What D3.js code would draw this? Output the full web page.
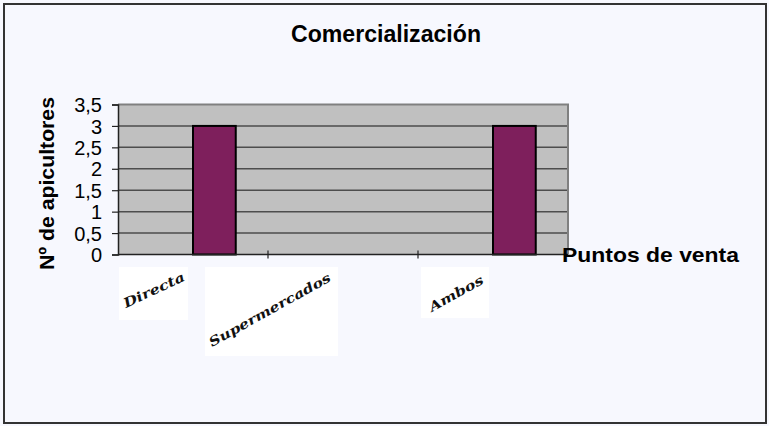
<!DOCTYPE html>
<html>
<head>
<meta charset="utf-8">
<script src="https://cdn.jsdelivr.net/npm/d3@7"></script>
<style>
  html, body { margin: 0; padding: 0; background: #f7f8fe; }
  svg { display: block; font-family: Arial, "Liberation Sans", sans-serif; }
</style>
</head>
<body>
<svg id="chart" width="769" height="426"></svg>
<script>
/* Data
   ========================================================================== */
var categories = ["Directa", "Supermercados", "Ambos"];
var apicultores = [3, 0, 3];
var yTicks = [0, 0.5, 1, 1.5, 2, 2.5, 3, 3.5];
var chartTitle = "Comercialización";
var yTitle = "Nº de apicultores";
var xTitle = "Puntos de venta";

/* Layout
   ========================================================================== */
var plot = { left: 118, right: 568, top: 104.5, bottom: 254.5 };

var svg = d3.select("#chart");

// outer frame
svg.append("rect")
    .attr("x", 4).attr("y", 4)
    .attr("width", 762).attr("height", 419)
    .attr("fill", "#f7f8fe")
    .attr("stroke", "#333")
    .attr("stroke-width", 2);

var x = d3.scaleBand()
    .domain(categories)
    .range([plot.left, plot.right])
    .padding(0);

var y = d3.scaleLinear()
    .domain([0, 3.5])
    .range([plot.bottom, plot.top]);

// plot area background
svg.append("rect")
    .attr("x", plot.left).attr("y", plot.top)
    .attr("width", plot.right - plot.left)
    .attr("height", plot.bottom - plot.top)
    .attr("fill", "#c0c0c0");

// gridlines (every 0.5 except 0 and top)
svg.append("g")
    .selectAll("line")
    .data(yTicks.filter(function(d) { return d > 0 && d < 3.5; }))
    .enter().append("line")
    .attr("x1", plot.left).attr("x2", plot.right)
    .attr("y1", function(d) { return y(d); })
    .attr("y2", function(d) { return y(d); })
    .attr("stroke", "#4d4d4d")
    .attr("stroke-width", 1.5);

// top and right border of the plot area
svg.append("path")
    .attr("d", "M" + plot.left + "," + plot.top + "H" + plot.right + "V" + plot.bottom)
    .attr("fill", "none")
    .attr("stroke", "#808080")
    .attr("stroke-width", 2);

// bars: drawn from the centre of the category band to the right
var barW = x.bandwidth() * 0.285;
svg.append("g")
    .selectAll("rect")
    .data(categories)
    .enter().append("rect")
    .attr("x", function(d) { return x(d) + x.bandwidth() / 2; })
    .attr("width", barW)
    .attr("y", function(d, i) { return y(apicultores[i]); })
    .attr("height", function(d, i) { return y(0) - y(apicultores[i]); })
    .attr("fill", "#7e1f5c")
    .attr("stroke", "#000")
    .attr("stroke-width", 2)
    .style("display", function(d, i) { return apicultores[i] > 0 ? null : "none"; });

// y axis
var yAxis = svg.append("g")
    .attr("transform", "translate(" + plot.left + ",0)")
    .call(d3.axisLeft(y)
        .tickValues(yTicks)
        .tickSize(6)
        .tickPadding(10)
        .tickFormat(function(d) { return String(d).replace(".", ","); }));
yAxis.select(".domain").attr("stroke", "#222").attr("stroke-width", 1.5);
yAxis.selectAll(".tick line").attr("stroke", "#222").attr("stroke-width", 1.2);
yAxis.selectAll("text")
    .attr("fill", "#000")
    .style("font-size", "20px")
    .attr("dy", "0.36em");

// x axis (ticks between categories, crossing the axis)
var xAxisLine = svg.append("g");
xAxisLine.append("line")
    .attr("x1", plot.left).attr("x2", plot.right)
    .attr("y1", plot.bottom).attr("y2", plot.bottom)
    .attr("stroke", "#222").attr("stroke-width", 1.5);
xAxisLine.selectAll(".xtick")
    .data(categories.slice(1))
    .enter().append("line")
    .attr("class", "xtick")
    .attr("x1", function(d) { return x(d); })
    .attr("x2", function(d) { return x(d); })
    .attr("y1", plot.bottom - 4)
    .attr("y2", plot.bottom + 4)
    .attr("stroke", "#222").attr("stroke-width", 1.2);

// category labels: rotated text in white boxes
var labelBox = [
    { dx: 1,   w: 69,  h: 53, tx: 7,  ty: 41, ang: -25, len: 66 },
    { dx: -63, w: 133, h: 89, tx: 7,  ty: 80, ang: -29, len: 137 },
    { dx: 3,   w: 68,  h: 51, tx: 11, ty: 45, ang: -29, len: 60 }
];
var labels = svg.append("g")
    .selectAll("g")
    .data(categories)
    .enter().append("g")
    .attr("transform", function(d, i) {
        return "translate(" + (x(d) + labelBox[i].dx) + "," + (plot.bottom + 12.5) + ")";
    });
labels.append("rect")
    .attr("width", function(d, i) { return labelBox[i].w; })
    .attr("height", function(d, i) { return labelBox[i].h; })
    .attr("fill", "#fff");
labels.append("text")
    .attr("transform", function(d, i) {
        return "translate(" + labelBox[i].tx + "," + labelBox[i].ty + ") rotate(" + labelBox[i].ang + ")";
    })
    .attr("textLength", function(d, i) { return labelBox[i].len; })
    .attr("lengthAdjust", "spacingAndGlyphs")
    .style("font-family", "'DejaVu Serif', serif")
    .style("font-weight", "bold")
    .style("font-style", "italic")
    .style("font-size", "13px")
    .attr("fill", "#111")
    .text(function(d) { return d; });

// titles
svg.append("text")
    .attr("x", 386).attr("y", 42)
    .attr("text-anchor", "middle")
    .style("font-size", "23px")
    .style("font-weight", "bold")
    .attr("textLength", 190)
    .attr("lengthAdjust", "spacingAndGlyphs")
    .text(chartTitle);

svg.append("text")
    .attr("transform", "translate(54,270) rotate(-90)")
    .style("font-size", "21px")
    .style("font-weight", "bold")
    .attr("textLength", 173)
    .attr("lengthAdjust", "spacingAndGlyphs")
    .text(yTitle);

svg.append("text")
    .attr("x", 562).attr("y", 262)
    .style("font-size", "21px")
    .style("font-weight", "bold")
    .attr("textLength", 177)
    .attr("lengthAdjust", "spacingAndGlyphs")
    .text(xTitle);
</script>
</body>
</html>
